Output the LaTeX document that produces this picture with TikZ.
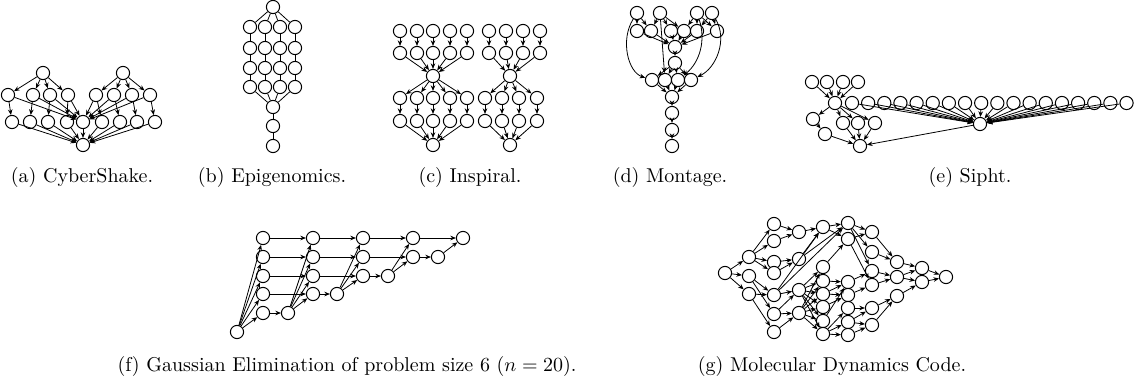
\documentclass[tikz,border=0pt]{standalone}
\usepackage{amsmath,amssymb}
\usetikzlibrary{arrows.meta,positioning,calc}

\tikzset{
  job/.style={circle, draw, line width=0.5pt, minimum size=6.6pt, inner sep=0pt, fill=white},
  dep/.style={-{Stealth[length=2.8pt,width=2.3pt]}, line width=0.4pt},
  link/.style={line width=0.4pt},
  subcap/.style={font=\fontsize{10}{12}\selectfont, inner sep=0pt, anchor=base}
}

\begin{document}
\begin{tikzpicture}[x=0.5pt,y=-0.5pt]
\useasboundingbox (0,0) rectangle (1137,386);

% (a) CyberShake
\node[job] (cyt1) at (43,73) {};
\node[job] (cyt2) at (123,73) {};
\foreach \x [count=\i] in {8,33,50,68}
  \node[job] (cyl\i) at (\x,95) {};
\foreach \x [count=\i] in {96,114,132,150}
  \node[job] (cyr\i) at (\x,95) {};
\foreach \x [count=\i] in {12,30,48,67}
  \node[job] (cybl\i) at (\x,122) {};
\foreach \x [count=\i] in {102,120,137,155}
  \node[job] (cybr\i) at (\x,122) {};
\node[job] (cymid) at (83,122) {};
\node[job] (cysink) at (83,145) {};
\foreach \i in {1,...,4} {
  \draw[dep] (cyt1) -- (cyl\i);
  \draw[dep] (cyt2) -- (cyr\i);
  \draw[dep] (cyl\i) -- (cybl\i);
  \draw[dep] (cyr\i) -- (cybr\i);
  \draw[dep] (cyl\i) -- (cymid);
  \draw[dep] (cyr\i) -- (cymid);
  \draw[dep] (cybl\i) -- (cysink);
  \draw[dep] (cybr\i) -- (cysink);
}
\draw[dep] (cymid) -- (cysink);
\node[subcap] (capa) at (82,182) {(a) CyberShake.};

% (b) Epigenomics
\node[job] (epitop) at (273,7) {};
\foreach \x [count=\i] in {250,265,280,295} {
  \foreach \y [count=\j] in {27,48,68,87}
    \node[job] (epi\i-\j) at (\x,\y) {};
}
\node[job] (epimerge) at (273,107) {};
\node[job] (epiidx) at (273,126) {};
\node[job] (epiend) at (273,146) {};
\foreach \i in {1,...,4} {
  \draw[link] (epitop) -- (epi\i-1);
  \draw[link] (epi\i-1) -- (epi\i-2) -- (epi\i-3) -- (epi\i-4);
  \draw[link] (epi\i-4) -- (epimerge);
}
\draw[link] (epimerge) -- (epiidx) -- (epiend);
\node[subcap] (capb) at (272,182) {(b) Epigenomics.};

% (c) Inspiral
\foreach \x [count=\i] in {400,417,433,450,467} {
  \node[job] (inla\i) at (\x,31) {};
  \node[job] (inlb\i) at (\x,53) {};
  \node[job] (inlc\i) at (\x,98) {};
  \node[job] (inld\i) at (\x,121) {};
}
\node[job] (inlhub) at (433,76) {};
\node[job] (inlsink) at (433,145) {};
\foreach \i in {1,...,5} {
  \draw[dep] (inla\i) -- (inlb\i);
  \draw[dep] (inlb\i) -- (inlhub);
  \draw[dep] (inlhub) -- (inlc\i);
  \draw[dep] (inlc\i) -- (inld\i);
  \draw[dep] (inld\i) -- (inlsink);
}
\foreach \x [count=\i] in {489,506,523,540} {
  \node[job] (inra\i) at (\x,31) {};
  \node[job] (inrb\i) at (\x,53) {};
}
\foreach \x [count=\i] in {485,502,519,537} {
  \node[job] (inrc\i) at (\x,98) {};
  \node[job] (inrd\i) at (\x,121) {};
}
\node[job] (inrhub) at (510,76) {};
\node[job] (inrsink) at (510,145) {};
\foreach \i in {1,...,4} {
  \draw[dep] (inra\i) -- (inrb\i);
  \draw[dep] (inrb\i) -- (inrhub);
  \draw[dep] (inrhub) -- (inrc\i);
  \draw[dep] (inrc\i) -- (inrd\i);
  \draw[dep] (inrd\i) -- (inrsink);
}
\node[subcap] (capc) at (470,182) {(c) Inspiral.};

% (d) Montage
\foreach \x [count=\i] in {637,660,697,712}
  \node[job] (mpt\i) at (\x,13) {};
\foreach \x [count=\i] in {637,651,671,684,697,717}
  \node[job] (mdf\i) at (\x,31) {};
\node[job] (mcc) at (675,47) {};
\node[job] (mbg) at (675,63) {};
\foreach \x [count=\i] in {652,665,678,691}
  \node[job] (mbk\i) at (\x,80) {};
\node[job] (mit) at (672,97) {};
\node[job] (madd) at (672,113) {};
\node[job] (mshr) at (672,130) {};
\node[job] (mjpg) at (672,146) {};
\foreach \s/\t in {1/1,1/2,2/2,2/3,2/4,3/4,3/5,3/6,4/5,4/6}
  \draw[dep] (mpt\s) -- (mdf\t);
\foreach \i in {1,...,6}
  \draw[dep] (mdf\i) -- (mcc);
\draw[dep] (mcc) -- (mbg);
\foreach \i in {1,...,4} {
  \draw[dep] (mbg) -- (mbk\i);
  \draw[dep] (mbk\i) -- (mit);
}
\draw[dep] (mpt1) .. controls (620,40) and (628,72) .. (mbk1);
\draw[dep] (mpt2) -- (mbk2);
\draw[dep] (mpt3) .. controls (706,40) and (700,62) .. (mbk3);
\draw[dep] (mpt4) .. controls (728,40) and (716,68) .. (mbk4);
\draw[dep] (mit) -- (madd);
\draw[dep] (madd) -- (mshr);
\draw[dep] (mshr) -- (mjpg);
\node[subcap] (capd) at (670,182) {(d) Montage.};

% (e) Sipht
\foreach \x [count=\i] in {812,827,843,858}
  \node[job] (sptop\i) at (\x,82) {};
\node[job] (sphub) at (835,103) {};
\foreach \i in {1,...,18}
  \node[job] (sprow\i) at ({852+16.15*(\i-1)},103) {};
\node[job] (spjoin) at (980,124) {};
\node[job] (spa) at (813,119) {};
\node[job] (spb) at (825,134) {};
\node[job] (spc) at (843,123) {};
\node[job] (spd) at (858,123) {};
\node[job] (spe) at (875,123) {};
\node[job] (spsink) at (860,146) {};
\foreach \i in {1,...,4}
  \draw[dep] (sptop\i) -- (sphub);
\foreach \i in {1,...,18}
  \draw[dep] (sprow\i) -- (spjoin);
\foreach \t in {spa,spc,spd,spe}
  \draw[dep] (sphub) -- (\t);
\draw[dep] (spa) -- (spb);
\foreach \s in {spb,spc,spd,spe,spjoin}
  \draw[dep] (\s) -- (spsink);
\node[subcap] (cape) at (970,182) {(e) Sipht.};

% (f) Gaussian elimination
\node[job] (gp1) at (237,332) {};
\node[job] (gp2) at (288,313) {};
\node[job] (gp3) at (337,294) {};
\node[job] (gp4) at (388,276) {};
\node[job] (gp5) at (438,257) {};
\node[job] (gend) at (463,238) {};
\foreach \y [count=\r] in {238,257,276,294,313}
  \node[job] (ga\r) at (263,\y) {};
\foreach \y [count=\r] in {238,257,276,294}
  \node[job] (gb\r) at (313,\y) {};
\foreach \y [count=\r] in {238,257,276}
  \node[job] (gc\r) at (363,\y) {};
\foreach \y [count=\r] in {238,257}
  \node[job] (gd\r) at (413,\y) {};
\foreach \r in {1,...,5}
  \draw[dep] (gp1) -- (ga\r);
\draw[dep] (ga5) -- (gp2);
\foreach \r in {1,...,4} {
  \draw[dep] (ga\r) -- (gb\r);
  \draw[dep] (gp2) -- (gb\r);
}
\draw[dep] (gb4) -- (gp3);
\foreach \r in {1,...,3} {
  \draw[dep] (gb\r) -- (gc\r);
  \draw[dep] (gp3) -- (gc\r);
}
\draw[dep] (gc3) -- (gp4);
\foreach \r in {1,2} {
  \draw[dep] (gc\r) -- (gd\r);
  \draw[dep] (gp4) -- (gd\r);
}
\draw[dep] (gd2) -- (gp5);
\draw[dep] (gd1) -- (gend);
\draw[dep] (gp5) -- (gend);
\node[subcap] (capf) at (347,371) {(f) Gaussian Elimination of problem size 6 ($n=20$).};

% (g) Molecular dynamics code
\foreach \n/\x/\y in {a/725/273,
    b1/749/257, b2/749/276, b3/749/294,
    c1/774/224, c2/774/241, c3/774/262, c4/774/273, c5/774/295, c6/774/314, c7/774/332,
    d1/799/232, d2/799/259, d3/799/290, d4/799/313,
    e1/823/227, e2/823/267, e3/823/281, e4/823/294, e5/823/307, e6/823/321, e7/823/334,
    f1/848/223, f2/848/239, f3/848/282, f4/848/295, f5/848/308, f6/848/322, f7/848/335,
    g1/872/232, g2/872/252, g3/872/271, g4/872/285, g5/872/308, g6/872/325,
    h1/897/262, h2/897/277, h3/897/296,
    i1/922/268, i2/922/282, j/946/277}
  \node[job] (md\n) at (\x,\y) {};
\foreach \s/\t in {a/b1, a/b2, a/b3,
    b1/c1, b1/c2, b1/c3, b1/c4, b2/c5, b2/c6, b3/c5, b3/c7,
    c1/d1, c2/d1, c3/d2, c4/d2, c5/d3, c6/d3, c6/d4, c7/d4,
    c5/e1, c5/f1,
    d1/e1, d2/e1, d2/f1,
    d3/e2, d3/e3, d3/e4, d3/e5, d3/e6, d3/e7,
    d4/e2, d4/e3, d4/e4, d4/e5, d4/e6, d4/e7,
    e1/f1, e1/f2, e2/f2, e3/f3, e4/f3, e4/f4, e5/f4, e6/f3,
    e7/f5, e7/f6, e7/f7,
    f1/g1, f1/g2, f1/g3, f2/g1, f2/g4, f3/g3, f4/g4,
    f5/g5, f6/g5, f6/g6, f7/g6,
    g1/h1, g2/h1, g3/h2, g4/h2, g5/h3, g6/h3,
    h1/i1, h2/i1, h2/i2, h3/i2, i1/j, i2/j}
  \draw[dep] (md\s) -- (md\t);
\node[subcap] (capg) at (832,371) {(g) Molecular Dynamics Code.};
\end{tikzpicture}
\end{document}
